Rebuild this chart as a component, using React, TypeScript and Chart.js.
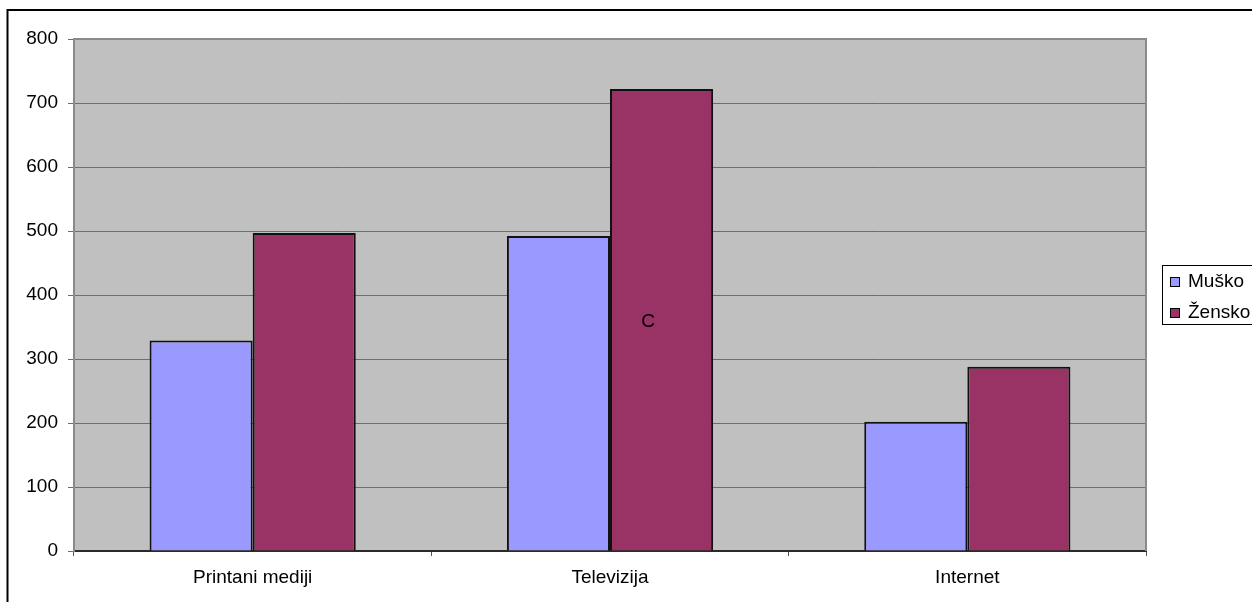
import React, { useEffect, useRef } from "react";
import { Chart, registerables } from "chart.js";

Chart.register(...registerables);

const categories = ["Printani mediji", "Televizija", "Internet"];
const seriesNames = ["Muško", "Žensko"];
const muskoValues = [329, 492, 202];
const zenskoValues = [497, 722, 288];
const yTicks = [0, 100, 200, 300, 400, 500, 600, 700, 800];
const noteText = "C";
const noteCategoryIndex = 1;
const noteValue = 358;

const FONT = "'Liberation Sans', Arial, sans-serif";
const colors = ["#9999FF", "#993366"];

const framePlugin = {
  id: "frame",
  beforeDraw(chart: any) {
    const { ctx, chartArea } = chart;
    ctx.save();
    ctx.fillStyle = "#ffffff";
    ctx.fillRect(0, 0, chart.width, chart.height);
    ctx.fillStyle = "#C0C0C0";
    ctx.fillRect(chartArea.left, chartArea.top, chartArea.right - chartArea.left, chartArea.bottom - chartArea.top);
    ctx.strokeStyle = "#000000";
    ctx.lineWidth = 2;
    ctx.strokeRect(7.5, 10, chart.width + 20, chart.height + 20);
    ctx.restore();
  },
  beforeDatasetsDraw(chart: any) {
    const { ctx, chartArea } = chart;
    ctx.save();
    ctx.strokeStyle = "#8a8a8a";
    ctx.lineWidth = 2;
    ctx.beginPath();
    ctx.moveTo(chartArea.left, chartArea.bottom);
    ctx.lineTo(chartArea.left, chartArea.top);
    ctx.lineTo(chartArea.right, chartArea.top);
    ctx.lineTo(chartArea.right, chartArea.bottom);
    ctx.stroke();
    ctx.restore();
  },
  afterDraw(chart: any) {
    const { ctx, chartArea, scales } = chart;
    ctx.save();
    ctx.fillStyle = "#000";
    ctx.font = `19px ${FONT}`;
    ctx.textAlign = "center";
    ctx.textBaseline = "middle";
    const nx = scales.x.getPixelForValue(noteCategoryIndex) + 38;
    const ny = scales.y.getPixelForValue(noteValue);
    ctx.fillText(noteText, nx, ny);

    const lx = chartArea.right + 16;
    const ly = 265;
    ctx.fillStyle = "#fff";
    ctx.fillRect(lx, ly, 200, 59);
    ctx.strokeStyle = "#000";
    ctx.lineWidth = 1;
    ctx.strokeRect(lx + 0.5, ly + 0.5, 200, 59);
    chart.data.datasets.forEach((ds: any, i: number) => {
      const cy = ly + 17 + i * 31;
      ctx.fillStyle = ds.backgroundColor;
      ctx.fillRect(lx + 8.5, cy - 4.5, 9, 9);
      ctx.strokeStyle = "#000";
      ctx.strokeRect(lx + 8.5, cy - 4.5, 9, 9);
      ctx.fillStyle = "#000";
      ctx.font = `19px ${FONT}`;
      ctx.textAlign = "left";
      ctx.textBaseline = "middle";
      ctx.fillText(ds.label, lx + 26, cy);
    });
    ctx.restore();
  },
};

export default function App() {
  const ref = useRef<HTMLCanvasElement | null>(null);
  useEffect(() => {
    if (!ref.current) return;
    const chart = new Chart(ref.current, {
      type: "bar",
      data: {
        labels: categories,
        datasets: [
          {
            label: seriesNames[0],
            data: muskoValues,
            backgroundColor: colors[0],
            borderColor: "#111",
            borderWidth: 2,
            categoryPercentage: 0.577,
            barPercentage: 1,
          },
          {
            label: seriesNames[1],
            data: zenskoValues,
            backgroundColor: colors[1],
            borderColor: "#111",
            borderWidth: 2,
            categoryPercentage: 0.577,
            barPercentage: 1,
          },
        ],
      },
      options: {
        animation: false,
        responsive: false,
        maintainAspectRatio: false,
        layout: { padding: { left: 0, right: 106, top: 39, bottom: 0 } },
        plugins: { legend: { display: false }, tooltip: { enabled: false } },
        scales: {
          x: {
            afterFit: (s: any) => {
              s.height = 51;
            },
            grid: {
              display: true,
              drawOnChartArea: false,
              drawTicks: true,
              tickLength: 5,
              color: "#555",
              tickColor: "#555",
              offset: true,
            },
            border: { display: true, color: "#2a2a2a", width: 2 },
            ticks: { color: "#000", font: { family: FONT, size: 19 }, padding: 10, maxRotation: 0 },
          },
          y: {
            min: 0,
            max: 800,
            afterFit: (s: any) => {
              s.width = 74;
            },
            afterBuildTicks: (s: any) => {
              s.ticks = yTicks.map((v) => ({ value: v }));
            },
            grid: { color: "#6e6e6e", tickColor: "#6e6e6e", tickLength: 6, lineWidth: 1 },
            border: { display: true, color: "#8a8a8a", width: 2 },
            ticks: { color: "#000", font: { family: FONT, size: 19 }, padding: 10 },
          },
        },
      },
      plugins: [framePlugin],
    });
    return () => chart.destroy();
  }, []);
  return (
    <div style={{ position: "fixed", left: 0, top: 0, width: 1252, height: 602, overflow: "hidden", background: "#fff" }}>
      <canvas ref={ref} width={1252} height={602} style={{ display: "block", width: 1252, height: 602 }} />
    </div>
  );
}
